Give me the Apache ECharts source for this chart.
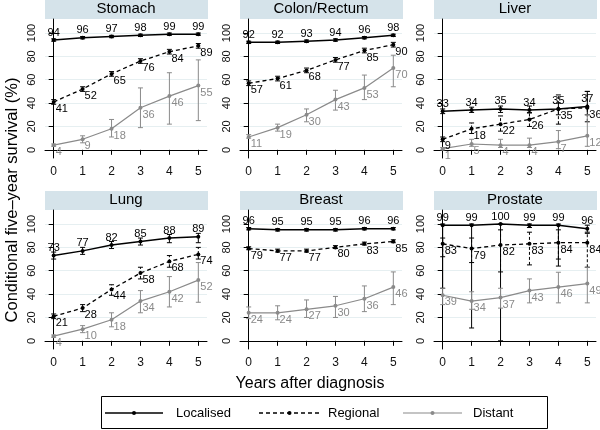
<!DOCTYPE html>
<html>
<head>
<meta charset="utf-8">
<script src="https://cdn.jsdelivr.net/npm/echarts@6/dist/echarts.min.js"></script>
<style>html,body{margin:0;padding:0;background:#fff}#c{width:600px;height:430px}</style>
</head>
<body>
<div id="c"></div>
<script>
const years = [0, 1, 2, 3, 4, 5];
const yTicks = [0, 20, 40, 60, 80, 100];
const panels = ['Stomach', 'Colon/Rectum', 'Liver', 'Lung', 'Breast', 'Prostate'];
const stageNames = ['Localised', 'Regional', 'Distant'];

// point estimates per panel
const localised = [
  [94, 96, 97, 98, 99, 99],
  [92, 92, 93, 94, 96, 98],
  [33, 34, 35, 34, 35, 37],
  [73, 77, 82, 85, 88, 89],
  [96, 95, 95, 95, 96, 96],
  [99, 99, 100, 99, 99, 96]
];
const regional = [
  [41, 52, 65, 76, 84, 89],
  [57, 61, 68, 77, 85, 90],
  [9, 18, 22, 26, 35, 36],
  [21, 28, 44, 58, 68, 74],
  [79, 77, 77, 80, 83, 85],
  [83, 79, 82, 83, 84, 84]
];
const distant = [
  [4, 9, 18, 36, 46, 55],
  [11, 19, 30, 43, 53, 70],
  [1, 5, 4, 4, 7, 12],
  [4, 10, 18, 34, 42, 52],
  [24, 24, 27, 30, 36, 46],
  [39, 34, 37, 43, 46, 49]
];
// confidence intervals [low, high]
const localisedCI = [
  [[93,95],[95,97],[96,98],[97,99],[98,100],[98,100]],
  [[91,93],[91,93],[92,94],[93,95],[95,97],[97,99]],
  [[31,35],[32,36.5],[32,37.5],[31.5,37.5],[30,40],[30,50]],
  [[70,76],[74,80],[79,85],[82,88],[84,91],[84,92]],
  [[95,97],[94,96],[94,96],[94,96],[95,97],[95,97]],
  [[45,100],[11,100],[0,100],[97,100],[64,100],[93,99]]
];
const regionalCI = [
  [[39,43],[50,54],[63,67],[74,78],[82,86],[87,91]],
  [[55,59],[59,63],[66,70],[75,79],[83,87],[88,92]],
  [[7,11],[14,23],[16,29],[20,32],[22,47],[24,50]],
  [[19,23],[25,31],[39,48],[53,63],[63,73],[70,80]],
  [[78,80.5],[76,78.5],[76,78.5],[79,81.5],[82,84.5],[84,86.5]],
  [[72,88],[67,88],[59,95],[65,93],[70,95],[63,92]]
];
const distantCI = [
  [[3,5],[6,12],[11,26],[19,53],[22,66],[25,77]],
  [[10,13],[16,22],[24,35],[34,51],[43,64],[54,81]],
  [[0,2],[3,9],[2,9],[2,10],[1,16.5],[3,30]],
  [[3,5],[7,13],[12,24],[24,43],[29,55],[33,67]],
  [[19,29],[18,30],[20,35],[20,38],[25,47],[31,59]],
  [[31,45],[27,42],[28,45],[32.5,53],[32.5,58.7],[32.5,63]]
];

const FONT = 'Liberation Sans, Arial, Helvetica, sans-serif';
const GRAY = '#8a8a8a';
const gridLefts = [45, 240, 434];
const gridTops = [19, 210];
const gridW = 162, gridH = 139;

const grids = [], xAxes = [], yAxes = [], series = [], graphics = [];

panels.forEach((name, i) => {
  const col = i % 3, row = Math.floor(i / 3);
  const left = gridLefts[col], top = gridTops[row];
  grids.push({ left: left, top: top, width: gridW, height: gridH, containLabel: false });
  xAxes.push({
    type: 'value', gridIndex: i, min: -0.3, max: 5.3,
    axisLine: { show: true, lineStyle: { color: '#000', width: 1 } },
    axisTick: { show: true, length: 5, lineStyle: { color: '#000' }, customValues: years },
    axisLabel: { customValues: years, margin: 8, fontSize: 12, color: '#111', fontFamily: FONT },
    splitLine: { show: false }
  });
  yAxes.push({
    type: 'value', gridIndex: i, min: -7, max: 112,
    axisLine: { show: true, lineStyle: { color: '#000', width: 1 } },
    axisTick: { show: true, length: 5, lineStyle: { color: '#000' }, customValues: yTicks },
    axisLabel: { customValues: yTicks, rotate: 90, margin: 8, fontSize: 11, color: '#111', fontFamily: FONT },
    splitLine: { show: true, lineStyle: { color: '#e6eff1', width: 1 } }
  });
  // header band
  graphics.push({
    type: 'rect', shape: { x: left, y: top - 19, width: gridW + 1, height: 19 },
    style: { fill: '#d5e3ea' }, z: 0
  });
  graphics.push({
    type: 'text', x: left + gridW / 2, y: top - 10,
    style: { text: name, font: '15px ' + FONT, fill: '#000', align: 'center', verticalAlign: 'middle' }, z: 1
  });

  const stages = [
    { vals: localised[i], ci: localisedCI[i], color: '#000', dash: 'solid', width: 1.5, label: 'top', lc: '#000', sym: 4 },
    { vals: regional[i], ci: regionalCI[i], color: '#000', dash: [4, 3], width: 1.3, label: 'right', lc: '#000', sym: 4 },
    { vals: distant[i], ci: distantCI[i], color: GRAY, dash: 'solid', width: 1.2, label: 'right', lc: GRAY, sym: 4 }
  ];
  stages.forEach((s, k) => {
    const isDash = Array.isArray(s.dash);
    series.push({
      type: 'custom', name: stageNames[k], xAxisIndex: i, yAxisIndex: i,
      data: years.map((x, j) => [x, s.ci[j][0], s.ci[j][1]]),
      encode: { x: 0, y: [1, 2] },
      z: 3,
      silent: true,
      renderItem: function (params, api) {
        const x = api.value(0);
        const pLo = api.coord([x, api.value(1)]);
        const pHi = api.coord([x, api.value(2)]);
        const w = 2.5;
        const st = { stroke: s.color, lineWidth: 1, lineDash: isDash ? [3, 2] : null, fill: null };
        return {
          type: 'group',
          children: [
            { type: 'line', shape: { x1: pLo[0], y1: pLo[1], x2: pHi[0], y2: pHi[1] }, style: st },
            { type: 'line', shape: { x1: pLo[0] - w, y1: pLo[1], x2: pLo[0] + w, y2: pLo[1] }, style: { stroke: s.color, lineWidth: 1 } },
            { type: 'line', shape: { x1: pHi[0] - w, y1: pHi[1], x2: pHi[0] + w, y2: pHi[1] }, style: { stroke: s.color, lineWidth: 1 } }
          ]
        };
      }
    });
    series.push({
      type: 'line', name: stageNames[k], xAxisIndex: i, yAxisIndex: i,
      data: years.map((x, j) => [x, s.vals[j]]),
      symbol: 'circle', symbolSize: s.sym, showSymbol: true,
      itemStyle: { color: s.color },
      lineStyle: { color: s.color, width: s.width, type: s.dash },
      z: 4, silent: true, animation: false,
      label: s.label === 'top'
        ? { show: true, position: 'top', distance: 0, fontSize: 11, color: s.lc, fontFamily: FONT }
        : { show: true, position: [4, 9], align: 'left', verticalAlign: 'middle', fontSize: 11, color: s.lc, fontFamily: FONT },
      labelLayout: { hideOverlap: false }
    });
  });
});

// axis titles
graphics.push({
  type: 'text', x: 12, y: 200, rotation: Math.PI / 2,
  style: { text: 'Conditional five\u2013year survival (%)', font: '16.5px ' + FONT, fill: '#000', align: 'center', verticalAlign: 'middle' }
});
graphics.push({
  type: 'text', x: 310, y: 384,
  style: { text: 'Years after diagnosis', font: '16px ' + FONT, fill: '#000', align: 'center', verticalAlign: 'middle' }
});
// legend
const legY = 413;
graphics.push({ type: 'rect', shape: { x: 101.5, y: 396.5, width: 446, height: 32 }, style: { fill: '#fff', stroke: '#000', lineWidth: 1 } });
const legItems = [
  { name: stageNames[0], x1: 105, x2: 163, tx: 176, color: '#000', dash: null, w: 1.5 },
  { name: stageNames[1], x1: 259, x2: 320, tx: 328, color: '#000', dash: [4, 3], w: 1.3 },
  { name: stageNames[2], x1: 403, x2: 462, tx: 473, color: GRAY, dash: null, w: 1.2 }
];
legItems.forEach(it => {
  graphics.push({ type: 'line', shape: { x1: it.x1, y1: legY, x2: it.x2, y2: legY }, style: { stroke: it.color, lineWidth: it.w, lineDash: it.dash } });
  graphics.push({ type: 'circle', shape: { cx: (it.x1 + it.x2) / 2, cy: legY, r: 2 }, style: { fill: it.color } });
  graphics.push({ type: 'text', x: it.tx, y: legY, style: { text: it.name, font: '13px ' + FONT, fill: '#000', align: 'left', verticalAlign: 'middle' } });
});

const chart = echarts.init(document.getElementById('c'), null, { renderer: 'canvas' });
chart.setOption({
  backgroundColor: '#fff',
  animation: false,
  grid: grids,
  xAxis: xAxes,
  yAxis: yAxes,
  series: series,
  graphic: graphics
});
</script>
</body>
</html>
